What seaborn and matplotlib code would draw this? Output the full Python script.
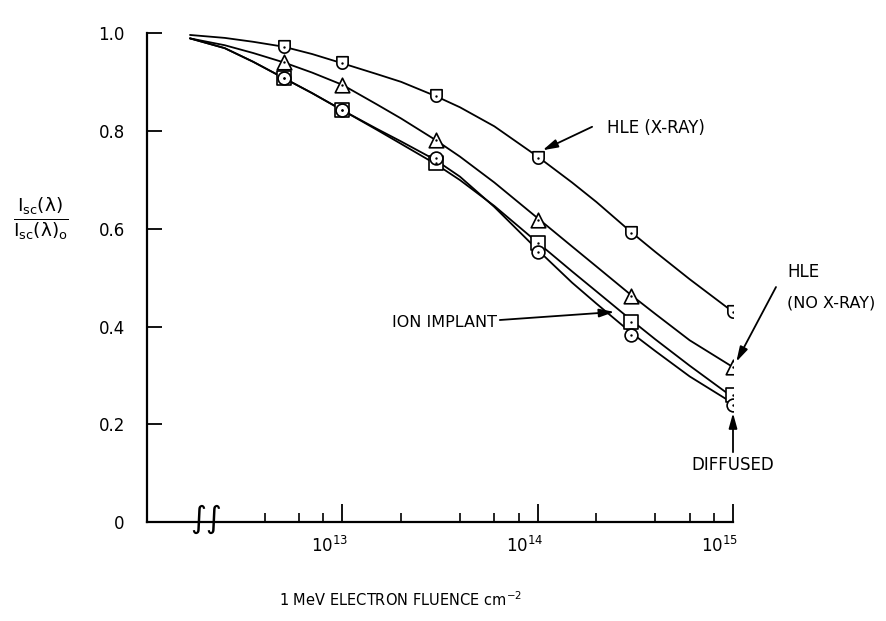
"""Normalised short-circuit current vs 1 MeV electron fluence for four cell types."""

import matplotlib

matplotlib.use("Agg")

import matplotlib.pyplot as plt
import numpy as np
import pandas as pd
import seaborn as sns
from matplotlib import font_manager
from matplotlib.path import Path
from matplotlib.ticker import NullFormatter, NullLocator
from matplotlib.transforms import ScaledTranslation


# measured points (fluence in cm^-2, Isc / Isc0)
fluence = [5e12, 1e13, 3e13, 1e14, 3e14, 1e15]
hle_xray = [0.973, 0.939, 0.872, 0.745, 0.592, 0.430]
hle_no_xray = [0.941, 0.895, 0.782, 0.618, 0.463, 0.317]
ion_implant = [0.909, 0.843, 0.735, 0.571, 0.409, 0.260]
diffused = [0.909, 0.843, 0.745, 0.553, 0.383, 0.240]

curve_fluence = [1.66e12, 2.5e12, 3.5e12, 5e12, 7e12, 1e13, 1.5e13, 2e13, 3e13, 4e13, 6e13,
                 1e14, 1.5e14, 2e14, 3e14, 4e14, 6e14, 1e15]
curve_hle_xray = [0.997, 0.991, 0.983, 0.973, 0.958, 0.939, 0.917, 0.901, 0.872, 0.849, 0.810,
                  0.748, 0.695, 0.655, 0.594, 0.553, 0.497, 0.430]
curve_hle_no_xray = [0.990, 0.976, 0.960, 0.941, 0.920, 0.895, 0.855, 0.826, 0.782, 0.748, 0.695,
                     0.622, 0.564, 0.523, 0.465, 0.426, 0.372, 0.317]
curve_ion_implant = [0.990, 0.970, 0.942, 0.909, 0.878, 0.843, 0.803, 0.774, 0.733, 0.700, 0.647,
                     0.572, 0.513, 0.472, 0.414, 0.374, 0.320, 0.255]
curve_diffused = [0.990, 0.970, 0.942, 0.909, 0.878, 0.843, 0.805, 0.779, 0.741, 0.707, 0.645,
                  0.557, 0.490, 0.447, 0.388, 0.350, 0.298, 0.243]

major_ticks = [1e13, 1e14, 1e15]
major_labels = ["10$^{13}$", "10$^{14}$", "10$^{15}$"]
minor_ticks = [4e12, 6e12, 8e12, 2e13, 4e13, 6e13, 8e13, 2e14, 4e14, 6e14, 8e14]
y_ticks = [0, 0.2, 0.4, 0.6, 0.8, 1.0]
y_labels = ["0", "0.2", "0.4", "0.6", "0.8", "1.0"]


def shield_path():
    """Flat-topped marker with a round bottom."""
    theta = np.linspace(0, -np.pi, 20)
    verts = [(-1, 1.2), (1, 1.2), (1, 0)] + list(zip(np.cos(theta), np.sin(theta))) + [(-1, 1.2)]
    codes = [Path.MOVETO] + [Path.LINETO] * (len(verts) - 2) + [Path.CLOSEPOLY]
    return Path(verts, codes)


sns.set_style("ticks")
names = {f.name for f in font_manager.fontManager.ttflist}
FONT = "Liberation Sans Narrow" if "Liberation Sans Narrow" in names else "DejaVu Sans"
plt.rcParams["font.family"] = [FONT, "DejaVu Sans"]
plt.rcParams["mathtext.default"] = "regular"
for key in ["text.color", "axes.labelcolor", "xtick.color", "ytick.color"]:
    plt.rcParams[key] = "black"

n = len(curve_fluence)
curves = pd.DataFrame({
    "fluence": curve_fluence * 4,
    "ratio": curve_hle_xray + curve_hle_no_xray + curve_ion_implant + curve_diffused,
    "cell": ["hle_xray"] * n + ["hle_no_xray"] * n + ["ion_implant"] * n + ["diffused"] * n,
})

fig = plt.figure(figsize=(8.86, 6.21), dpi=100)
ax = fig.add_axes([147 / 886, 1 - 522 / 621, 586 / 886, 488.5 / 621])
ax.set_xscale("log")

sns.lineplot(data=curves, x="fluence", y="ratio", units="cell", estimator=None,
             color="black", lw=1.3, ax=ax, legend=False)

series = [
    (hle_xray, shield_path(), 95),
    (hle_no_xray, "^", 110),
    (ion_implant, "s", 95),
    (diffused, "o", 85),
]
for values, marker, size in series:
    sns.scatterplot(x=fluence, y=values, marker=marker, s=size, color="white",
                    edgecolor="black", linewidth=1.2, zorder=3, ax=ax, legend=False)
    sns.scatterplot(x=fluence, y=values, marker="o", s=3, color="black",
                    edgecolor="black", linewidth=0, zorder=4, ax=ax, legend=False)

ax.set_xlim(1e12, 1e15)
ax.set_ylim(0, 1.0)
ax.set_xlabel("")
ax.set_ylabel("")

ax.set_xticks(major_ticks)
ax.set_xticklabels(major_labels, fontsize=12)
ax.set_xticks(minor_ticks, minor=True)
ax.xaxis.set_minor_formatter(NullFormatter())
ax.set_yticks(y_ticks)
ax.set_yticklabels(y_labels, fontsize=12)
ax.yaxis.set_minor_locator(NullLocator())

ax.tick_params(axis="x", which="major", direction="in", length=13, width=1.3, pad=10)
ax.tick_params(axis="x", which="minor", direction="in", length=6.5, width=1.2)
ax.tick_params(axis="y", which="major", direction="in", length=11, width=1.3, pad=16)
for lab in ax.get_xticklabels():
    lab.set_transform(lab.get_transform() + ScaledTranslation(-0.13, 0, fig.dpi_scale_trans))

for side in ["top", "right"]:
    ax.spines[side].set_visible(False)
for side in ["left", "bottom"]:
    ax.spines[side].set_linewidth(1.6)
    ax.spines[side].set_color("black")

# axis break mark
ax.text(2e12, 0.005, "\u222b\u222b", family="DejaVu Sans", fontsize=22,
        ha="center", va="center", zorder=5)

arrow = dict(arrowstyle="-|>,head_length=0.9,head_width=0.25", color="black", lw=1.3,
             shrinkA=0, shrinkB=0)
ax.annotate("", xy=(1.06e14, 0.761), xytext=(1.9e14, 0.809), arrowprops=arrow)
ax.text(2.27e14, 0.807, "HLE (X-RAY)", fontsize=12, ha="left", va="center")

ax.annotate("", xy=(1.04e15, 0.328), xytext=(1.66e15, 0.481), arrowprops=arrow,
            annotation_clip=False)
ax.text(1.89e15, 0.512, "HLE", fontsize=12, ha="left", va="center")
ax.text(1.89e15, 0.448, "(NO X-RAY)", fontsize=11.5, ha="left", va="center")

ax.annotate("", xy=(2.47e14, 0.430), xytext=(6.4e13, 0.4135), arrowprops=arrow)
ax.text(6.2e13, 0.409, "ION IMPLANT", fontsize=11.5, ha="right", va="center")

ax.annotate("", xy=(1e15, 0.223), xytext=(1e15, 0.143), arrowprops=arrow,
            annotation_clip=False)
ax.text(1e15, 0.117, "DIFFUSED", fontsize=12, ha="center", va="center")

fig.text(401 / 886, 1 - 600 / 621, "1 MeV ELECTRON FLUENCE cm$^{-2}$", fontsize=10.5,
         ha="center", va="center")
fig.text(41 / 886, 1 - 219 / 621, r"$\frac{I_{sc}(\lambda)}{I_{sc}(\lambda)_o}$",
         fontsize=19, ha="center", va="center")

fig.savefig("out.png", dpi=100)
